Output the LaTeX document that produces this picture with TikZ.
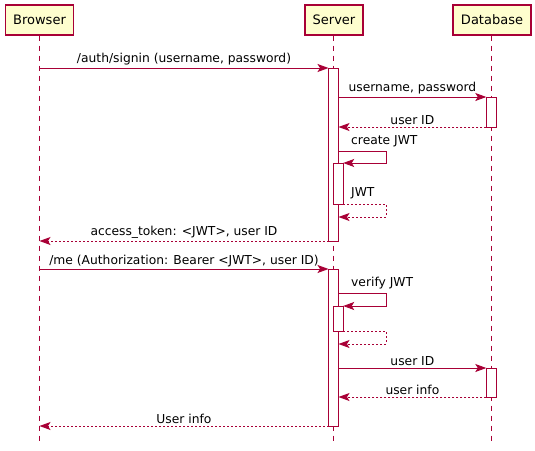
\documentclass[tikz,border=0pt]{standalone}
\usepackage{fontspec}
\setmainfont{DejaVu Sans}
\usetikzlibrary{arrows.meta}
\definecolor{umlred}{HTML}{A80036}
\definecolor{umlfill}{HTML}{FEFECE}
\begin{document}
\begin{tikzpicture}[x=1pt, y=-1pt, every node/.style={font=\fontsize{12.3}{14}\selectfont, text=black},
    party/.style={draw=umlred, fill=umlfill, line width=1.3pt, minimum height=30pt, inner sep=0pt, font=\fontsize{13}{15}\selectfont},
    life/.style={draw=umlred, line width=0.8pt, dash pattern=on 5pt off 5pt},
    actbox/.style={draw=umlred, fill=white, line width=0.9pt, inner sep=0pt, outer sep=0pt, minimum width=10pt},
    msg/.style={draw=umlred, line width=0.9pt, -{Stealth[length=11pt, width=8pt, inset=2.5pt]}},
    ret/.style={msg, dash pattern=on 2pt off 2pt},
    lbl/.style={inner sep=2pt}]
        \useasboundingbox (0,0) rectangle (535,450);
        \node[party, minimum width=68pt] (browser) at (39.5,20) {Browser};
        \node[party, minimum width=58pt] (server) at (334,20) {Server};
        \node[party, minimum width=78pt] (db) at (492,20) {Database};
        \coordinate (browserEnd) at (39.5,442);
        \coordinate (serverEnd) at (333.5,442);
        \coordinate (dbEnd) at (491.5,442);
        \draw[life] (browser.south -| browserEnd) -- (browserEnd);
        \draw[life] (server.south -| serverEnd) -- (serverEnd);
        \draw[life] (db.south -| dbEnd) -- (dbEnd);
        \node[actbox, minimum height=173pt] (srvAct1) at (333.5,154.5) {};
        \node[actbox, minimum height=30pt] (dbAct1) at (491.3,112) {};
        \node[actbox, minimum height=41pt] (jwtAct1) at (338.2,183.5) {};
        \node[actbox, minimum height=157pt] (srvAct2) at (333.5,347.5) {};
        \node[actbox, minimum height=25pt] (jwtAct2) at (338.2,318.5) {};
        \node[actbox, minimum height=29pt] (dbAct2) at (491.3,382.5) {};
        \coordinate (signin) at (39.5,68);
        \coordinate (token) at (39.5,241);
        \coordinate (me) at (39.5,269);
        \coordinate (userInfo) at (39.5,426);
        \coordinate (createA) at (386,151);
        \coordinate (createB) at (386,163);
        \coordinate (jwtA) at (386,204);
        \coordinate (jwtB) at (386,217);
        \coordinate (verifyA) at (386,293);
        \coordinate (verifyB) at (386,306);
        \coordinate (verifyRetA) at (386,331);
        \coordinate (verifyRetB) at (386,344);
        \draw[msg] (signin) -- node[lbl, above] {/auth/signin (username, password)} (srvAct1.north west);
        \draw[msg] (srvAct1.east |- dbAct1.north) -- node[lbl, above] {username, password} (dbAct1.north west);
        \draw[ret] (dbAct1.south west) -- node[lbl, above] {user ID} (srvAct1.east |- dbAct1.south);
        \draw[msg] (srvAct1.east |- createA) -- (createA) -- (createB) -- (jwtAct1.north east);
        \node[lbl, anchor=south west] (createLbl) at (349,149) {create JWT};
        \draw[ret] (jwtAct1.south east) -- (jwtA) -- (jwtB) -- (srvAct1.east |- jwtB);
        \node[lbl, anchor=south west] (jwtLbl) at (349,201) {JWT};
        \draw[ret] (srvAct1.south west) -- node[lbl, above] {access\_token: <JWT>, user ID} (token);
        \draw[msg] (me) -- node[lbl, above] {/me (Authorization: Bearer <JWT>, user ID)} (srvAct2.north west);
        \draw[msg] (srvAct2.east |- verifyA) -- (verifyA) -- (verifyB) -- (jwtAct2.north east);
        \node[lbl, anchor=south west] (verifyLbl) at (349,291) {verify JWT};
        \draw[ret] (jwtAct2.south east) -- (verifyRetA) -- (verifyRetB) -- (srvAct2.east |- verifyRetB);
        \draw[msg] (srvAct2.east |- dbAct2.north) -- node[lbl, above] {user ID} (dbAct2.north west);
        \draw[ret] (dbAct2.south west) -- node[lbl, above] {user info} (srvAct2.east |- dbAct2.south);
        \draw[ret] (srvAct2.south west) -- node[lbl, above] {User info} (userInfo);
    \end{tikzpicture}
\end{document}
